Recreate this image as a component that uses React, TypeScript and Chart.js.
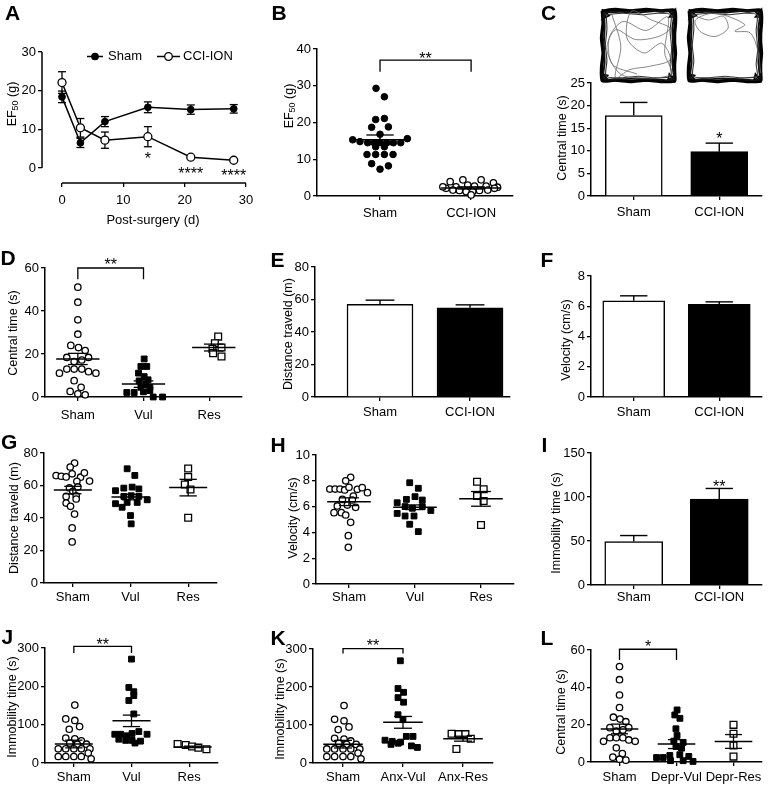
import React, { useEffect, useRef } from "react";
import { Chart, registerables } from "chart.js";

Chart.register(...registerables);

const W = 775;
const H = 789;
const FONT = "'Liberation Sans', Arial, Helvetica, sans-serif";

/* ================= DATA ================= */

// A – EF50 time course
const aDays = [0, 3, 7, 14, 21, 28];
const aShamMean = [18.4, 6.5, 12.0, 15.7, 15.1, 15.3];
const aShamSem = [1.5, 1.2, 1.3, 1.4, 1.2, 1.1];
const aCciMean = [22.1, 10.4, 7.2, 8.1, 2.8, 2.0];
const aCciSem = [2.8, 2.4, 2.1, 2.6, 0.3, 0.3];
const aXTicks = [0, 10, 20, 30];
const aYTicks = [0, 10, 20, 30];
const aSigDays = [14, 21, 28];
const aSigText = ["*", "****", "****"];
const aSigY = [3.4, -0.5, -1.1];

// category labels
const groups2 = ["Sham", "CCI-ION"];
const groupsVul = ["Sham", "Vul", "Res"];
const groupsAnx = ["Sham", "Anx-Vul", "Anx-Res"];
const groupsDepr = ["Sham", "Depr-Vul", "Depr-Res"];

// B – EF50 scatter
const bShamVals = [29.3, 27.0, 20.8, 21.1, 18.7, 18.8, 16.8, 15.3, 14.8, 14.5, 14.5, 14.6, 14.5, 14.5, 14.5, 15.6, 13.4, 13.4, 11.3, 11.3, 11.3, 11.3, 8.8, 8.2, 7.3];
const bShamJit = [-0.044, 0.048, -0.048, 0.048, -0.092, 0.092, 0, -0.3, -0.22, -0.136, -0.062, 0, 0.073, 0.147, 0.227, 0.3, -0.048, 0.048, -0.143, -0.048, 0.048, 0.143, -0.092, 0.092, 0];
const bCciVals = [3.9, 4.4, 4.4, 3.6, 2.5, 3.0, 2.7, 2.7, 2.4, 2.1, 1.6, 1.5, 1.2, 1.2, 1.5, 1.6, 2.1, 0.3, 2.5];
const bCciJit = [-0.23, -0.09, 0.11, 0.245, -0.165, -0.037, 0.037, 0.165, 0.29, -0.275, -0.2, -0.128, -0.055, 0.018, 0.092, 0.183, 0.256, 0, -0.31];
const bMean = [15.3, 2.2];
const bSem = [1.3, 0.3];
const bYTicks = [0, 10, 20, 30, 40];

// C – central time bars
const cMean = [17.8, 9.8];
const cSem = [2.9, 1.9];
const cYTicks = [0, 5, 10, 15, 20, 25];

// Sham central time (D and L)
const shamCentVals = [51.1, 44.1, 35.9, 29.2, 24.0, 23.0, 21.6, 18.4, 18.4, 16.5, 17.2, 11.1, 13.0, 13.0, 13.0, 11.8, 11.1, 7.6, 4.5, 2.6, 1.5, 1.0];
const shamCentJit = [0, 0, 0, 0, -0.107, 0.01, 0.112, -0.168, 0.163, -0.056, 0.06, -0.28, -0.168, -0.056, 0.06, 0.163, 0.275, -0.056, 0.05, -0.117, 0, 0.112];

// D
const dVulVals = [17.7, 14.2, 14.2, 11.1, 9.5, 8.0, 7.5, 6.0, 4.5, 4.5, 2.1, 2.1, 2.4, 3.0, 0, 0];
const dVulJit = [0.01, -0.04, 0.05, -0.076, 0.01, 0.07, -0.066, 0.036, -0.04, 0.097, -0.254, -0.142, 0, 0.097, 0.148, 0.29];
const dResVals = [28.1, 25.0, 23.0, 22.4, 20.4, 18.8];
const dResJit = [0.137, 0.087, 0.188, 0.05, 0.06, 0.188];
const dMean = [17.7, 6.0, 23.0];
const dSem = [2.6, 1.5, 1.6];
const dYTicks = [0, 20, 40, 60];

// E – distance bars
const eMean = [57.0, 54.9];
const eSem = [2.6, 1.8];
const eYTicks = [0, 20, 40, 60, 80];

// F – velocity bars
const fMean = [6.36, 6.12];
const fSem = [0.33, 0.17];
const fYTicks = [0, 2, 4, 6, 8];

// G – distance scatter
const gShamVals = [73.8, 71.4, 66.1, 65.7, 65.3, 67.2, 65.1, 67.8, 62.7, 62.6, 58.5, 59.1, 56.4, 53.3, 53.7, 51.7, 49.2, 47.2, 42.4, 33.9, 25.3];
const gShamJit = [0.03, -0.046, -0.29, -0.2, -0.116, -0.012, 0.133, 0.2, 0.29, 0.07, -0.058, 0.087, 0, -0.116, 0.058, 0.058, -0.116, -0.04, 0.03, -0.012, -0.012];
const gVulVals = [70.3, 66.2, 56.8, 58.4, 59.0, 57.9, 48.8, 53.3, 53.7, 53.3, 51.2, 49.6, 49.6, 46.6, 41.5, 36.4];
const gVulJit = [-0.058, 0.075, -0.26, -0.116, 0.029, 0.145, -0.26, -0.116, 0.012, 0.145, 0.29, -0.058, 0.116, -0.145, 0, 0.012];
const gResVals = [70.5, 65.2, 60.6, 57.5, 40.2];
const gResJit = [0, 0, -0.058, 0.04, 0];
const gMean = [57.2, 52.9, 58.7];
const gSem = [2.3, 1.7, 5.1];
const gYTicks = [0, 20, 40, 60, 80];

// H – velocity scatter
const hShamVals = [8.27, 8.0, 7.36, 7.36, 7.36, 7.29, 7.5, 7.34, 7.47, 7.08, 6.82, 6.56, 6.51, 6.05, 6.12, 5.94, 5.53, 5.53, 5.35, 4.78, 3.75, 2.84];
const hShamJit = [0.025, -0.05, -0.29, -0.21, -0.136, -0.066, 0, 0.126, 0.2, 0.28, 0.066, -0.1, 0.05, -0.177, -0.025, 0.1, -0.227, -0.116, -0.05, 0.025, -0.01, -0.01];
const hVulVals = [7.85, 7.42, 6.3, 6.56, 6.77, 6.51, 6.0, 5.87, 6.0, 5.7, 5.47, 5.27, 5.27, 4.63, 4.06];
const hVulJit = [-0.08, 0.05, -0.27, -0.13, 0, 0.11, -0.15, -0.04, 0.11, 0.24, -0.27, -0.15, -0.015, -0.08, 0.05];
const hResVals = [7.93, 7.34, 6.82, 6.43, 4.57];
const hResJit = [-0.06, 0.04, -0.06, 0.04, 0];
const hMean = [6.38, 5.95, 6.6];
const hSem = [0.3, 0.18, 0.57];
const hYTicks = [0, 2, 4, 6, 8, 10];

// I – immobility bars
const iMean = [49.3, 97.6];
const iSem = [6.9, 12.1];
const iYTicks = [0, 50, 100, 150];

// Sham immobility (J and K)
const shamImmVals = [151, 115, 111, 88, 95, 65, 63, 58, 52, 49, 49, 37, 37, 37, 37, 37, 17, 17, 17, 17, 26, 11];
const shamImmJit = [0.017, -0.14, 0.017, -0.08, 0.1, -0.14, 0.017, 0.13, -0.07, 0.06, 0.22, -0.27, -0.14, 0, 0.13, 0.28, -0.27, -0.14, 0, 0.13, 0.25, 0.3];

// J
const jVulVals = [271, 197, 186, 176, 163, 128, 75, 75, 71, 77, 82, 75, 62, 59, 59, 57, 52];
const jVulJit = [0, -0.046, 0.04, 0.04, -0.046, 0.04, -0.29, -0.19, -0.087, 0.01, 0.127, 0.27, -0.22, -0.1, 0.01, 0.156, 0.06];
const jResVals = [49.5, 47, 43, 40, 36];
const jResJit = [-0.2, -0.06, 0.05, 0.16, 0.3];
const jMean = [49.5, 110, 42];
const jSem = [10, 15, 2];
const immYTicks = [0, 100, 200, 300];

// K
const kVulVals = [269, 196, 186, 172, 160, 127, 114, 60, 57, 70, 70, 45, 41, 52, 49, 55];
const kVulJit = [-0.044, -0.083, 0.01, -0.083, 0.01, -0.083, 0, -0.3, -0.18, 0.055, 0.167, 0.14, 0.24, -0.08, -0.2, -0.04];
const kResVals = [77, 76, 76, 64, 37];
const kResJit = [-0.19, -0.07, 0.04, 0.13, -0.11];
const kMean = [49.5, 107, 64];
const kSem = [10, 15.5, 6.5];

// L
const lVulVals = [27.9, 25.2, 23.4, 17.8, 14.2, 11.2, 10.5, 8.3, 7.4, 2.4, 2.4, 3.5, 3.9, 3.0, 0.7, 0.7, 0.3];
const lVulJit = [0.01, -0.03, 0.06, -0.01, 0.01, -0.047, 0.117, -0.01, 0.088, -0.35, -0.234, -0.117, 0.058, 0.216, -0.105, 0.117, 0.29];
const lResVals = [19.9, 15.1, 8.8, 2.9];
const lResJit = [0, 0, 0, 0];
const lMean = [17.7, 9.6, 11.0];
const lSem = [2.6, 2.4, 3.7];

// C – open-field tracks (0–100 arena coordinates, y down)
const trackEdgeOuter = [[3, 4], [20, 2], [40, 4], [60, 2], [80, 4], [97, 3], [98, 20], [96, 40], [98, 60], [96, 80], [97, 97], [80, 98], [60, 96], [40, 98], [20, 96], [3, 97], [2, 80], [4, 60], [2, 40], [4, 20], [3, 4]];
const trackEdgeMid = [[5, 6], [25, 5], [50, 6], [72, 4], [95, 6], [94, 28], [95, 50], [94, 72], [95, 95], [72, 95], [48, 94], [25, 95], [5, 94], [6, 72], [5, 48], [6, 25], [5, 6]];
const trackEdgeInner = [[8, 9], [30, 7], [55, 9], [75, 7], [92, 9], [91, 30], [93, 55], [91, 75], [92, 91], [70, 93], [50, 91], [28, 93], [8, 91], [9, 70], [7, 50], [9, 28], [8, 9]];
const trackCorners = [[2, 2], [12, 10], [4, 14], [12, 3], [88, 3], [97, 12], [90, 12], [98, 2], [98, 88], [88, 97], [90, 88], [97, 98], [12, 97], [3, 88], [10, 90], [2, 98]];
const trackShamPath = [[15, 7], [27, 51], [20, 93], [39, 82], [63, 78], [91, 69], [80, 47], [57, 60], [35, 40], [41, 4], [67, 16], [91, 27], [76, 38], [46, 42], [20, 29], [9, 56], [28, 89], [72, 93], [93, 87], [84, 60], [88, 12], [60, 30], [30, 18], [12, 40], [16, 75], [48, 88]];
const trackCciPath = [[6.5, 9], [28, 16], [48, 11], [54, 27], [37, 38], [17, 31], [11, 16], [37, 7], [76, 22], [63, 31], [83, 33], [93, 56], [97, 87]];

/* ================= drawing helpers ================= */

type Hp = {
  ctx: CanvasRenderingContext2D;
  px: (v: number) => number;
  py: (v: number) => number;
  area: { left: number; right: number; top: number; bottom: number };
};

function seg(ctx: CanvasRenderingContext2D, x1: number, y1: number, x2: number, y2: number, w = 1.3) {
  ctx.save();
  ctx.beginPath();
  ctx.strokeStyle = "#000";
  ctx.lineWidth = w;
  ctx.moveTo(x1, y1);
  ctx.lineTo(x2, y2);
  ctx.stroke();
  ctx.restore();
}

function txt(ctx: CanvasRenderingContext2D, s: string, x: number, y: number, size = 13, align: CanvasTextAlign = "center") {
  ctx.save();
  ctx.font = `${size}px ${FONT}`;
  ctx.fillStyle = "#000";
  ctx.textAlign = align;
  ctx.textBaseline = "middle";
  ctx.fillText(s, x, y);
  ctx.restore();
}

function vtitle(ctx: CanvasRenderingContext2D, parts: Array<[string, number, number]>, cx: number, cy: number) {
  ctx.save();
  ctx.translate(cx, cy);
  ctx.rotate(-Math.PI / 2);
  ctx.fillStyle = "#000";
  ctx.textBaseline = "alphabetic";
  ctx.textAlign = "left";
  let total = 0;
  const widths = parts.map(([t, s]) => {
    ctx.font = `${s}px ${FONT}`;
    const w = ctx.measureText(t).width;
    total += w;
    return w;
  });
  let x = -total / 2;
  parts.forEach(([t, s, dy], i) => {
    ctx.font = `${s}px ${FONT}`;
    ctx.fillText(t, x, 4.5 + dy);
    x += widths[i];
  });
  ctx.restore();
}
const yt = (s: string): Array<[string, number, number]> => [[s, 12.5, 0]];
const EF50: Array<[string, number, number]> = [["EF", 12.5, 0], ["50", 9, 2.5], [" (g)", 12.5, 0]];

function stars(h: Hp, xv: number, yv: number, s: string) {
  const ctx = h.ctx;
  ctx.save();
  ctx.font = `16px ${FONT}`;
  ctx.fillStyle = "#000";
  ctx.textAlign = "center";
  ctx.textBaseline = "alphabetic";
  ctx.fillText(s, h.px(xv), h.py(yv) + 9.2);
  ctx.restore();
}

function meanSem(h: Hp, cat: number, mean: number, sem: number, dx = 0) {
  const c = cat + dx;
  const { ctx, px, py } = h;
  seg(ctx, px(c - 0.33), py(mean), px(c + 0.33), py(mean), 1.5);
  seg(ctx, px(c - 0.15), py(mean + sem), px(c + 0.15), py(mean + sem), 1.3);
  seg(ctx, px(c - 0.15), py(mean - sem), px(c + 0.15), py(mean - sem), 1.3);
  seg(ctx, px(c), py(mean + sem), px(c), py(mean - sem), 1.3);
}

function barErr(h: Hp, cat: number, top: number, sem: number) {
  const { ctx, px, py } = h;
  seg(ctx, px(cat), py(top), px(cat), py(top + sem), 1.4);
  seg(ctx, px(cat - 0.16), py(top + sem), px(cat + 0.16), py(top + sem), 1.4);
}

function bracket(h: Hp, x1: number, x2: number, y: number, yLeg: number) {
  const { ctx, px, py } = h;
  ctx.save();
  ctx.beginPath();
  ctx.strokeStyle = "#000";
  ctx.lineWidth = 1.3;
  ctx.moveTo(px(x1), py(yLeg));
  ctx.lineTo(px(x1), py(y));
  ctx.lineTo(px(x2), py(y));
  ctx.lineTo(px(x2), py(yLeg));
  ctx.stroke();
  ctx.restore();
}

function dot(ctx: CanvasRenderingContext2D, x: number, y: number, r: number, fill: string) {
  ctx.save();
  ctx.beginPath();
  ctx.arc(x, y, r, 0, Math.PI * 2);
  ctx.fillStyle = fill;
  ctx.fill();
  ctx.lineWidth = 1.3;
  ctx.strokeStyle = "#000";
  ctx.stroke();
  ctx.restore();
}

const STY: Record<string, any> = {
  fc: { pointStyle: "circle", pointRadius: 3.3, pointBackgroundColor: "#000", pointBorderColor: "#000", pointBorderWidth: 1 },
  oc: { pointStyle: "circle", pointRadius: 3.2, pointBackgroundColor: "#fff", pointBorderColor: "#000", pointBorderWidth: 1.3 },
  fs: { pointStyle: "rect", pointRadius: 4.1, pointBackgroundColor: "#000", pointBorderColor: "#000", pointBorderWidth: 1 },
  os: { pointStyle: "rect", pointRadius: 4.8, pointBackgroundColor: "#fff", pointBorderColor: "#000", pointBorderWidth: 1.3 },
};

function group(cat: number, vals: number[], jit: number[], style: string) {
  return {
    type: "scatter",
    data: vals.map((v, i) => ({ x: cat + jit[i], y: v })),
    showLine: false,
    clip: false,
    ...STY[style],
  };
}

function bars(vals: number[], thickness: number) {
  return {
    type: "bar",
    data: vals.map((v, i) => ({ x: i + 1, y: v })),
    backgroundColor: ["#fff", "#000"],
    borderColor: "#000",
    borderWidth: 1.5,
    barThickness: thickness,
    borderSkipped: "start",
    clip: false,
  };
}

/* ================= panel specs ================= */

interface PanelSpec {
  id: string;
  kind: "bar" | "scatter";
  box: [number, number, number, number]; // y-axis x, top y, x-axis end x, x-axis y
  xr: [number, number];
  yr: [number, number];
  xTicks: number[];
  xLabels?: string[];
  xPad: number;
  yTicks: number[];
  datasets: any[];
  plainAxes?: boolean;
  before?: (h: Hp) => void;
  after?: (h: Hp) => void;
}

const PANELS: PanelSpec[] = [
  {
    id: "A", kind: "scatter", box: [42, 52, 246, 183], xr: [-3.26, 30], yr: [-3.88, 30],
    xTicks: aXTicks, xPad: 6, yTicks: aYTicks, plainAxes: false,
    datasets: [
      { data: aDays.map((d, i) => ({ x: d, y: aShamMean[i] })), showLine: true, borderColor: "#000", borderWidth: 1.5, pointStyle: "circle", pointRadius: 3.4, pointBackgroundColor: "#000", pointBorderColor: "#000", pointBorderWidth: 1, clip: false },
      { data: aDays.map((d, i) => ({ x: d, y: aCciMean[i] })), showLine: true, borderColor: "#000", borderWidth: 1.5, pointStyle: "circle", pointRadius: 4, pointBackgroundColor: "#fff", pointBorderColor: "#000", pointBorderWidth: 1.3, clip: false },
    ],
    before: (h) => {
      const series: Array<[number[], number[]]> = [[aShamMean, aShamSem], [aCciMean, aCciSem]];
      series.forEach(([m, s]) => {
        aDays.forEach((d, i) => {
          const x = h.px(d);
          const y1 = h.py(m[i] - s[i]);
          const y2 = h.py(m[i] + s[i]);
          seg(h.ctx, x, y1, x, y2, 1.3);
          seg(h.ctx, x - 4, y1, x + 4, y1, 1.3);
          seg(h.ctx, x - 4, y2, x + 4, y2, 1.3);
        });
      });
    },
    after: (h) => {
      const { ctx, px, py, area } = h;
      seg(ctx, area.left, py(0), area.left, py(30), 1.5);
      seg(ctx, px(0), area.bottom, px(30), area.bottom, 1.5);
      // legend
      seg(ctx, 87, 56.5, 103, 56.5, 1.5);
      dot(ctx, 95, 56.5, 3.2, "#000");
      txt(ctx, "Sham", 108, 56.5, 13, "left");
      seg(ctx, 157, 56.5, 180, 56.5, 1.5);
      dot(ctx, 168.5, 56.5, 3.8, "#fff");
      txt(ctx, "CCI-ION", 183, 56.5, 13, "left");
      aSigDays.forEach((d, i) => stars(h, d, aSigY[i], aSigText[i]));
      txt(ctx, "Post-surgery (d)", 153, 220, 13);
      vtitle(ctx, EF50, 11, 104);
    },
  },
  {
    id: "B", kind: "scatter", box: [317, 49, 513, 196], xr: [0.308, 2.46], yr: [0, 40],
    xTicks: [1, 2], xLabels: groups2, xPad: 6, yTicks: bYTicks,
    datasets: [group(1, bShamVals, bShamJit, "fc"), group(2, bCciVals, bCciJit, "oc")],
    after: (h) => {
      meanSem(h, 1, bMean[0], bSem[0]);
      meanSem(h, 2, bMean[1], bSem[1]);
      bracket(h, 1, 2, 37.0, 33.8);
      stars(h, 1.5, 38.5, "**");
      vtitle(h.ctx, EF50, 288, 106);
    },
  },
  {
    id: "C", kind: "bar", box: [591, 83, 762, 196], xr: [0.5, 2.5], yr: [0, 25],
    xTicks: [1, 2], xLabels: groups2, xPad: 4.5, yTicks: cYTicks,
    datasets: [bars(cMean, 57)],
    after: (h) => {
      barErr(h, 1, cMean[0], cSem[0]);
      barErr(h, 2, cMean[1], cSem[1]);
      stars(h, 2, 13.5, "*");
      vtitle(h.ctx, yt("Central time (s)"), 561, 138);
    },
  },
  {
    id: "D", kind: "scatter", box: [45, 268, 242, 397], xr: [0.5, 3.5], yr: [0, 60],
    xTicks: [1, 2, 3], xLabels: groupsVul, xPad: 7, yTicks: dYTicks,
    datasets: [group(1, shamCentVals, shamCentJit, "oc"), group(2, dVulVals, dVulJit, "fs"), group(3, dResVals, dResJit, "os")],
    after: (h) => {
      meanSem(h, 1, dMean[0], dSem[0]);
      meanSem(h, 2, dMean[1], dSem[1]);
      meanSem(h, 3, dMean[2], dSem[2], 0.07);
      bracket(h, 1, 2, 60, 54.8);
      stars(h, 1.5, 63.2, "**");
      vtitle(h.ctx, yt("Central time (s)"), 12, 333);
    },
  },
  {
    id: "E", kind: "bar", box: [315, 267, 510, 397], xr: [0.278, 2.444], yr: [0, 80],
    xTicks: [1, 2], xLabels: groups2, xPad: 4, yTicks: eYTicks,
    datasets: [bars(eMean, 66)],
    after: (h) => {
      barErr(h, 1, eMean[0], eSem[0]);
      barErr(h, 2, eMean[1], eSem[1]);
      vtitle(h.ctx, yt("Distance traveld (m)"), 287, 334);
    },
  },
  {
    id: "F", kind: "bar", box: [591, 276, 762, 397], xr: [0.5, 2.5], yr: [0, 8],
    xTicks: [1, 2], xLabels: groups2, xPad: 3.5, yTicks: fYTicks,
    datasets: [bars(fMean, 62)],
    after: (h) => {
      barErr(h, 1, fMean[0], fSem[0]);
      barErr(h, 2, fMean[1], fSem[1]);
      vtitle(h.ctx, yt("Velocity (cm/s)"), 565, 340);
    },
  },
  {
    id: "G", kind: "scatter", box: [44, 453, 217, 583], xr: [0.5, 3.5], yr: [0, 80],
    xTicks: [1, 2, 3], xLabels: groupsVul, xPad: 2.5, yTicks: gYTicks,
    datasets: [group(1, gShamVals, gShamJit, "oc"), group(2, gVulVals, gVulJit, "fs"), group(3, gResVals, gResJit, "os")],
    after: (h) => {
      meanSem(h, 1, gMean[0], gSem[0]);
      meanSem(h, 2, gMean[1], gSem[1]);
      meanSem(h, 3, gMean[2], gSem[2]);
      vtitle(h.ctx, yt("Distance traveld (m)"), 13, 518);
    },
  },
  {
    id: "H", kind: "scatter", box: [316, 455, 514, 584], xr: [0.5, 3.5], yr: [0, 10],
    xTicks: [1, 2, 3], xLabels: groupsVul, xPad: 2, yTicks: hYTicks,
    datasets: [group(1, hShamVals, hShamJit, "oc"), group(2, hVulVals, hVulJit, "fs"), group(3, hResVals, hResJit, "os")],
    after: (h) => {
      meanSem(h, 1, hMean[0], hSem[0]);
      meanSem(h, 2, hMean[1], hSem[1]);
      meanSem(h, 3, hMean[2], hSem[2]);
      vtitle(h.ctx, yt("Velocity (cm/s)"), 292, 518);
    },
  },
  {
    id: "I", kind: "bar", box: [591, 453, 762, 585], xr: [0.5, 2.5], yr: [0, 150],
    xTicks: [1, 2], xLabels: groups2, xPad: 1, yTicks: iYTicks,
    datasets: [bars(iMean, 58)],
    after: (h) => {
      barErr(h, 1, iMean[0], iSem[0]);
      barErr(h, 2, iMean[1], iSem[1]);
      stars(h, 2, 116, "**");
      vtitle(h.ctx, yt("Immobility time (s)"), 555, 523);
    },
  },
  {
    id: "J", kind: "scatter", box: [45, 648, 218, 763], xr: [0.5, 3.5], yr: [0, 300],
    xTicks: [1, 2, 3], xLabels: groupsVul, xPad: 2.7, yTicks: immYTicks,
    datasets: [group(1, shamImmVals, shamImmJit, "oc"), group(2, jVulVals, jVulJit, "fs"), group(3, jResVals, jResJit, "os")],
    after: (h) => {
      meanSem(h, 1, jMean[0], jSem[0]);
      meanSem(h, 2, jMean[1], jSem[1]);
      meanSem(h, 3, jMean[2], jSem[2], 0.06);
      bracket(h, 1, 2, 304, 287);
      stars(h, 1.5, 320, "**");
      vtitle(h.ctx, yt("Immobility time (s)"), 11.5, 707);
    },
  },
  {
    id: "K", kind: "scatter", box: [313, 649, 493, 763], xr: [0.5, 3.5], yr: [0, 300],
    xTicks: [1, 2, 3], xLabels: groupsAnx, xPad: 3, yTicks: immYTicks,
    datasets: [group(1, shamImmVals, shamImmJit, "oc"), group(2, kVulVals, kVulJit, "fs"), group(3, kResVals, kResJit, "os")],
    after: (h) => {
      meanSem(h, 1, kMean[0], kSem[0]);
      meanSem(h, 2, kMean[1], kSem[1]);
      meanSem(h, 3, kMean[2], kSem[2]);
      bracket(h, 1, 2, 301, 288);
      stars(h, 1.5, 319, "**");
      vtitle(h.ctx, yt("Immobility time (s)"), 279.5, 709);
    },
  },
  {
    id: "L", kind: "scatter", box: [591, 650, 762, 762], xr: [0.5, 3.5], yr: [0, 60],
    xTicks: [1, 2, 3], xLabels: groupsDepr, xPad: 4, yTicks: dYTicks,
    datasets: [group(1, shamCentVals, shamCentJit, "oc"), group(2, lVulVals, lVulJit, "fs"), group(3, lResVals, lResJit, "os")],
    after: (h) => {
      meanSem(h, 1, lMean[0], lSem[0]);
      meanSem(h, 2, lMean[1], lSem[1]);
      meanSem(h, 3, lMean[2], lSem[2]);
      bracket(h, 1, 2, 60.4, 54.6);
      stars(h, 1.5, 63.7, "*");
      vtitle(h.ctx, yt("Central time (s)"), 560, 712);
    },
  },
];

function makeConfig(p: PanelSpec): any {
  const [ax, ty, ex, by] = p.box;
  const YW = 34;
  const XH = 24;
  const tickFont = { family: FONT, size: 13 };
  const grid = { display: true, drawOnChartArea: false, drawTicks: true, tickLength: 4, color: "#000", lineWidth: 1.3, offset: false };
  const border = { display: p.plainAxes !== false, color: "#000", width: 1.5 };
  const helpers = (chart: any): Hp => ({
    ctx: chart.ctx,
    px: (v: number) => chart.scales.x.getPixelForValue(v),
    py: (v: number) => chart.scales.y.getPixelForValue(v),
    area: chart.chartArea,
  });
  return {
    type: p.kind,
    data: { datasets: p.datasets },
    options: {
      animation: false,
      responsive: false,
      devicePixelRatio: 1,
      events: [],
      layout: { padding: { left: ax - YW, top: ty, right: W - ex, bottom: H - by - XH } },
      plugins: { legend: { display: false }, tooltip: { enabled: false }, title: { display: false } },
      scales: {
        x: {
          type: "linear",
          min: p.xr[0],
          max: p.xr[1],
          offset: false,
          afterFit: (s: any) => { s.height = XH; },
          afterBuildTicks: (s: any) => { s.ticks = p.xTicks.map((v) => ({ value: v })); },
          ticks: {
            font: tickFont, color: "#000", padding: p.xPad, autoSkip: false, maxRotation: 0, minRotation: 0,
            callback: (v: any, i: number) => (p.xLabels ? p.xLabels[i] : String(v)),
          },
          grid, border,
        },
        y: {
          type: "linear",
          min: p.yr[0],
          max: p.yr[1],
          afterFit: (s: any) => { s.width = YW; },
          afterBuildTicks: (s: any) => { s.ticks = p.yTicks.map((v) => ({ value: v })); },
          ticks: { font: tickFont, color: "#000", padding: 2, autoSkip: false, callback: (v: any) => String(v) },
          grid, border,
        },
      },
    },
    plugins: [
      {
        id: "ov" + p.id,
        beforeDatasetsDraw: (c: any) => { if (p.before) p.before(helpers(c)); },
        afterDatasetsDraw: (c: any) => { if (p.after) p.after(helpers(c)); },
      },
    ],
  };
}

function trackConfig(box: [number, number, number, number], path: number[][]): any {
  const [l, t, r, b] = box;
  const toXY = (arr: number[][]) => arr.map(([x, y]) => ({ x, y }));
  return {
    type: "scatter",
    data: {
      datasets: [
        { data: toXY(path), showLine: true, borderColor: "#6a6a6a", borderWidth: 0.8, pointRadius: 0, tension: 0.3, clip: false },
        { data: toXY(trackEdgeInner), showLine: true, borderColor: "#333", borderWidth: 1.1, pointRadius: 0, tension: 0.25, clip: false },
        { data: toXY(trackEdgeMid), showLine: true, borderColor: "#111", borderWidth: 2, pointRadius: 0, tension: 0.25, clip: false },
        { data: toXY(trackCorners), showLine: true, borderColor: "#000", borderWidth: 1.6, pointRadius: 0, tension: 0, clip: false },
        { data: toXY(trackEdgeOuter), showLine: true, borderColor: "#000", borderWidth: 3.4, pointRadius: 0, tension: 0.2, clip: false },
      ],
    },
    options: {
      animation: false,
      responsive: false,
      devicePixelRatio: 1,
      events: [],
      layout: { padding: { left: l, top: t, right: W - r, bottom: H - b } },
      plugins: { legend: { display: false }, tooltip: { enabled: false } },
      scales: {
        x: { type: "linear", display: false, min: 0, max: 100 },
        y: { type: "linear", display: false, min: 0, max: 100, reverse: true },
      },
    },
  };
}

function ChartCanvas({ make }: { make: () => any }) {
  const ref = useRef<HTMLCanvasElement>(null);
  useEffect(() => {
    const chart = new Chart(ref.current as HTMLCanvasElement, make());
    return () => chart.destroy();
  }, []);
  return (
    <canvas
      ref={ref}
      width={W}
      height={H}
      style={{ position: "absolute", left: 0, top: 0, width: W, height: H }}
    />
  );
}

const LETTERS: Array<[string, number, number]> = [
  ["A", 5, 2.2], ["B", 271.5, 2.2], ["C", 541, 2.2],
  ["D", 0.5, 246.7], ["E", 270.5, 248.9], ["F", 540.5, 248.9],
  ["G", 1, 431], ["H", 270.5, 433.9], ["I", 541.5, 433.9],
  ["J", 1.5, 625.5], ["K", 270.5, 627.2], ["L", 540.5, 627.2],
];

export default function App() {
  return (
    <div style={{ position: "absolute", left: 0, top: 0, width: W, height: H, background: "#fff", overflow: "hidden" }}>
      {PANELS.map((p) => (
        <ChartCanvas key={p.id} make={() => makeConfig(p)} />
      ))}
      <ChartCanvas make={() => trackConfig([600, 8, 677, 83], trackShamPath)} />
      <ChartCanvas make={() => trackConfig([687, 8, 763, 83], trackCciPath)} />
      {LETTERS.map(([t, x, y]) => (
        <div
          key={t}
          style={{
            position: "absolute", left: x, top: y, fontFamily: FONT, fontWeight: "bold",
            fontSize: 21, lineHeight: 1, color: "#000",
          }}
        >
          {t}
        </div>
      ))}
    </div>
  );
}
